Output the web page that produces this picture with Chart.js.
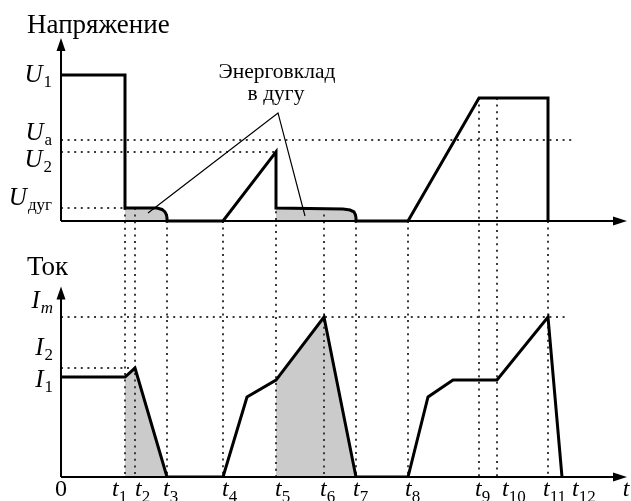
<!DOCTYPE html>
<html lang="ru">
<head>
<meta charset="UTF-8">
<title>Напряжение и ток</title>
<script src="https://cdn.jsdelivr.net/npm/chart.js"></script>
<style>
    body { margin: 0; background: #fff; }
    canvas { display: block; }
</style>
</head>
<body>
<canvas id="plot" width="631" height="501"></canvas>
<script>
// moments t1..t12 (arbitrary time units)
const tTimes = [6.4, 7.4, 10.6, 16.2, 21.5, 26.3, 29.5, 34.7, 41.8, 43.6, 48.7, 50.1];
const tNames = ['1', '2', '3', '4', '5', '6', '7', '8', '9', '10', '11', '12'];

// voltage levels
const U1 = 10, Ua = 5.55, U2 = 4.73, Uarc = 0.89, Uplat = 8.42;
const uLevels = [U1, Ua, U2, Uarc];
const uSubs = ['1', 'а', '2', 'дуг'];

// current levels
const Im = 10, I2 = 6.81, I1 = 6.25;
const iLevels = [Im, I2, I1];
const iSubs = ['m', '2', '1'];

// voltage curve
const voltT = [0, 6.4, 6.4, 9.6, 10.1, 10.4, 10.55, 10.6, 10.6, 16.2, 21.5, 21.5, 28.2, 28.9, 29.3, 29.45, 29.5, 29.5, 34.7, 41.8, 48.7, 48.7];
const voltU = [10, 10, 0.89, 0.89, 0.79, 0.62, 0.41, 0.2, 0, 0, 4.73, 0.89, 0.82, 0.75, 0.62, 0.41, 0.2, 0, 0, 8.42, 8.42, 0];

// current curve
const curT = [0, 6.4, 7.4, 10.6, 16.2, 18.6, 21.5, 26.3, 29.5, 34.7, 36.7, 39.2, 43.6, 48.7, 50.1];
const curI = [6.25, 6.25, 6.81, 0, 0, 5.0, 6.06, 10, 0, 0, 5.0, 6.06, 6.06, 10, 0];

// where the vertical dotted lines start in the voltage plot (t1..t11)
const guideFromU = [Uarc, Uarc, 0, 0, U2, Uarc, 0, 0, Uplat, Uplat, 0];
// right ends of horizontal dotted lines
const uGuideEnd = [51.2, 21.5, 6.4];   // Ua, U2, Uдуг
const iGuideEnd = [50.6, 7.4];         // Im, I2

// leader lines "Энерговклад в дугу"
const leaderT = [8.7, 21.7, 24.4];
const leaderU = [0.55, 7.4, 0.34];
const noteLines = ['Энерговклад', 'в дугу'];

// axis ranges (both y axes share one plot area)
const X_MAX = 56.6;
const U_MIN = -17.53, U_MAX = 12.53;
const I_MAX = 27.44;

// layout nudges for the labels (px)
const tLabelShift = [-13, 0, -4, -1, -1, -4, -3, -3, -4, 5, -5, 10];
const uLabelDy = [7, 0, 15, -3];
const iLabelDy = [-9, -13, 10];

const pts = (xs, ys) => xs.map((x, i) => ({ x: x, y: ys[i] }));
const voltPts = pts(voltT, voltU);
const curPts = pts(curT, curI);

const between = (p, a, b) => p.x >= a - 1e-6 && p.x <= b + 1e-6;
const voltFill1 = voltPts.filter(p => between(p, tTimes[0], tTimes[2]) && p.y <= Uarc + 1e-6);
const voltFill2 = voltPts.filter(p => between(p, tTimes[4], tTimes[6]) && p.y <= Uarc + 1e-6);
const curFill1 = curPts.filter(p => between(p, tTimes[0], tTimes[2]));
const curFill2 = curPts.filter(p => between(p, tTimes[4], tTimes[6]));

const vGuides = [];
guideFromU.forEach((u, i) => {
    vGuides.push({ x: tTimes[i], y: u }, { x: tTimes[i], y: U_MIN }, { x: tTimes[i], y: null });
});
const hGuidesU = [];
[Ua, U2, Uarc].forEach((u, i) => {
    hGuidesU.push({ x: 0, y: u }, { x: uGuideEnd[i], y: u }, { x: uGuideEnd[i], y: null });
});
const hGuidesI = [];
[Im, I2].forEach((v, i) => {
    hGuidesI.push({ x: 0, y: v }, { x: iGuideEnd[i], y: v }, { x: iGuideEnd[i], y: null });
});

const SERIF = '"Liberation Serif", "DejaVu Serif", serif';
const FILL = '#cbcbcb';
const DOT = '#3a3a3a';

function fillSet(data, axis) {
    return { data: data, yAxisID: axis, borderWidth: 0, backgroundColor: FILL, fill: 'origin', pointRadius: 0 };
}
function guideSet(data, axis) {
    return { data: data, yAxisID: axis, borderColor: DOT, borderWidth: 2, borderDash: [2, 4.6], borderCapStyle: 'butt', pointRadius: 0, spanGaps: false };
}

function drawSub(ctx, xRight, y, main, sub, subItalic) {
    ctx.font = 'italic 25px ' + SERIF;
    const wMain = ctx.measureText(main).width;
    ctx.font = (subItalic ? 'italic ' : '') + '17px ' + SERIF;
    const wSub = ctx.measureText(sub).width;
    const x0 = xRight - wMain - wSub - 1;
    ctx.font = 'italic 25px ' + SERIF;
    ctx.fillText(main, x0, y);
    ctx.font = (subItalic ? 'italic ' : '') + '17px ' + SERIF;
    ctx.fillText(sub, x0 + wMain + 1, y + 5);
}

function arrowUp(ctx, x, y) {
    ctx.beginPath();
    ctx.moveTo(x, y);
    ctx.lineTo(x - 4.5, y + 13);
    ctx.lineTo(x + 4.5, y + 13);
    ctx.closePath();
    ctx.fill();
}
function arrowRight(ctx, x, y) {
    ctx.beginPath();
    ctx.moveTo(x, y);
    ctx.lineTo(x - 14, y - 4.5);
    ctx.lineTo(x - 14, y + 4.5);
    ctx.closePath();
    ctx.fill();
}

const decor = {
    id: 'decor',
    afterDatasetsDraw(chart) {
        const ctx = chart.ctx;
        const xs = chart.scales.x, yu = chart.scales.yU, yi = chart.scales.yI;
        const x0 = xs.getPixelForValue(0), xEnd = xs.getPixelForValue(X_MAX);
        const u0 = yu.getPixelForValue(0), uTop = yu.getPixelForValue(U_MAX);
        const i0 = yi.getPixelForValue(0), iTop = yi.getPixelForValue(11.9);
        ctx.save();
        ctx.strokeStyle = '#000';
        ctx.fillStyle = '#000';
        ctx.lineWidth = 2;
        // axes
        ctx.beginPath();
        ctx.moveTo(x0, u0); ctx.lineTo(xEnd - 6, u0);
        ctx.moveTo(x0, u0); ctx.lineTo(x0, uTop + 6);
        ctx.moveTo(x0, i0); ctx.lineTo(xEnd - 6, i0);
        ctx.moveTo(x0, i0); ctx.lineTo(x0, iTop + 6);
        ctx.stroke();
        arrowUp(ctx, x0, uTop);
        arrowUp(ctx, x0, iTop);
        arrowRight(ctx, xEnd, u0);
        arrowRight(ctx, xEnd, i0);

        // titles
        ctx.textAlign = 'left';
        ctx.textBaseline = 'alphabetic';
        ctx.font = '27px ' + SERIF;
        ctx.fillText('Напряжение', 27, 33);
        ctx.fillText('Ток', 27, 275);

        // y labels
        uLevels.forEach((v, i) => drawSub(ctx, x0 - 9, yu.getPixelForValue(v) + uLabelDy[i], 'U', uSubs[i], false));
        iLevels.forEach((v, i) => drawSub(ctx, x0 - 8, yi.getPixelForValue(v) + iLabelDy[i], 'I', iSubs[i], i === 0));

        // t labels
        tTimes.forEach((t, i) => {
            const x = xs.getPixelForValue(t) + tLabelShift[i];
            ctx.font = 'italic 24px ' + SERIF;
            ctx.fillText('t', x, i0 + 19);
            const w = ctx.measureText('t').width;
            ctx.font = '17px ' + SERIF;
            ctx.fillText(tNames[i], x + w, i0 + 25);
        });
        ctx.font = '24px ' + SERIF;
        ctx.textAlign = 'center';
        ctx.fillText('0', x0, i0 + 19);
        ctx.font = 'italic 24px ' + SERIF;
        ctx.fillText('t', xEnd - 1, i0 + 19);

        // note
        const ax = xs.getPixelForValue(leaderT[1]), ay = yu.getPixelForValue(leaderU[1]);
        ctx.font = '21.5px ' + SERIF;
        ctx.fillText(noteLines[0], ax - 1, ay - 35);
        ctx.fillText(noteLines[1], ax - 2, ay - 13);
        ctx.restore();
    }
};

new Chart(document.getElementById('plot'), {
    type: 'line',
    data: {
        datasets: [
            { data: voltPts, yAxisID: 'yU', borderColor: '#000', borderWidth: 3, pointRadius: 0, fill: false, tension: 0, borderJoinStyle: 'miter' },
            { data: curPts, yAxisID: 'yI', borderColor: '#000', borderWidth: 3, pointRadius: 0, fill: false, tension: 0, borderJoinStyle: 'miter' },
            { data: pts(leaderT, leaderU), yAxisID: 'yU', borderColor: '#000', borderWidth: 1.2, pointRadius: 0, fill: false },
            guideSet(vGuides, 'yU'),
            guideSet(hGuidesU, 'yU'),
            guideSet(hGuidesI, 'yI'),
            fillSet(voltFill1, 'yU'),
            fillSet(voltFill2, 'yU'),
            fillSet(curFill1, 'yI'),
            fillSet(curFill2, 'yI')
        ]
    },
    options: {
        responsive: false,
        animation: false,
        devicePixelRatio: 1,
        parsing: false,
        layout: { padding: { left: 61, right: 4, top: 38, bottom: 24 } },
        plugins: { legend: { display: false }, tooltip: { enabled: false }, title: { display: false } },
        scales: {
            x: { type: 'linear', min: 0, max: X_MAX, display: false },
            yU: { type: 'linear', min: U_MIN, max: U_MAX, display: false },
            yI: { type: 'linear', min: 0, max: I_MAX, display: false }
        }
    },
    plugins: [decor]
});
</script>
</body>
</html>
